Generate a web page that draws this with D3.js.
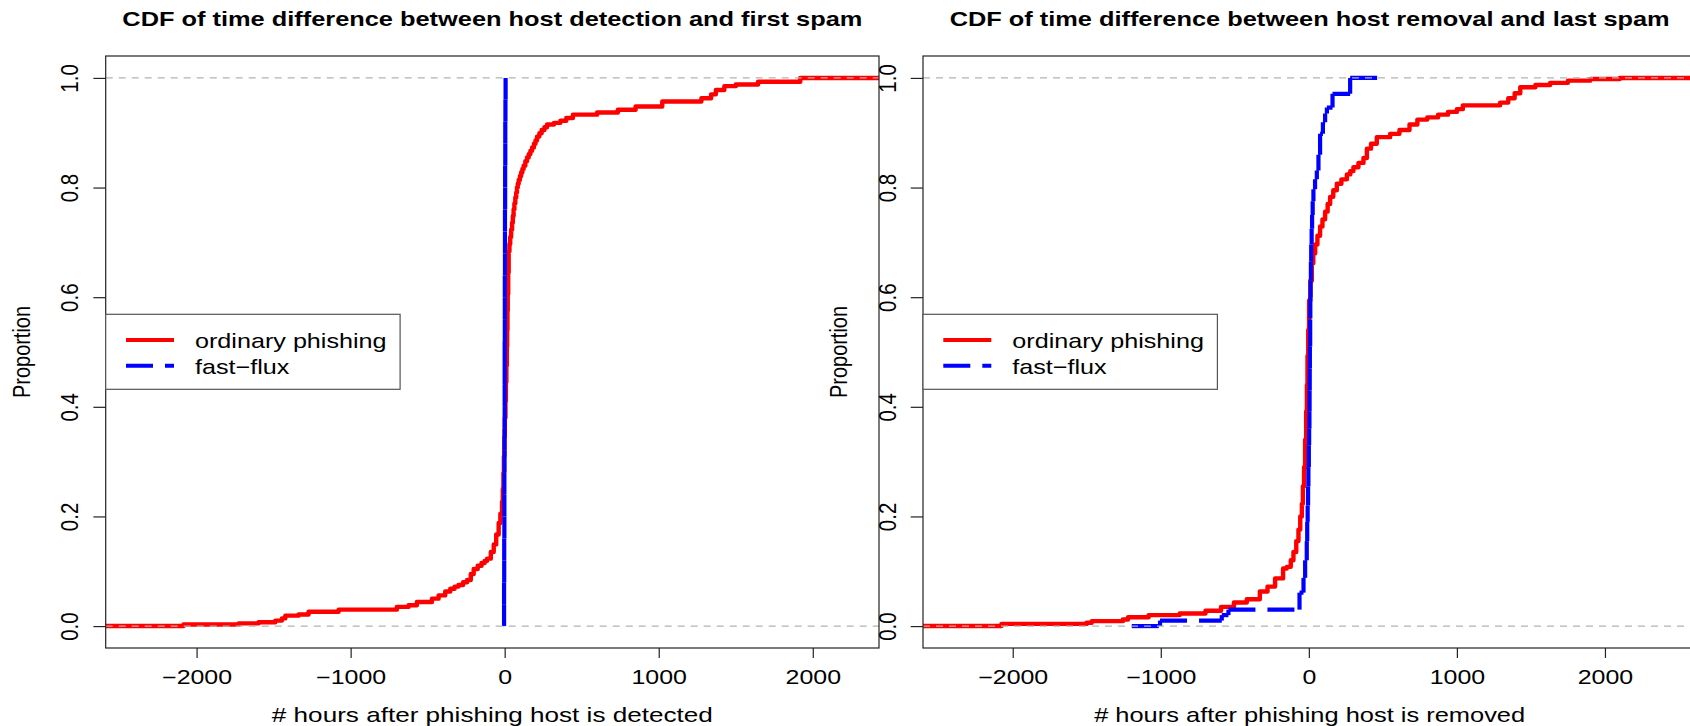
<!DOCTYPE html>
<html>
<head>
<meta charset="utf-8">
<script src="https://cdn.jsdelivr.net/npm/d3@7/dist/d3.min.js"></script>
<style>
  body { margin: 0; background: #fff; }
  svg { display: block; font-family: "Liberation Sans", Arial, Helvetica, sans-serif; }
</style>
</head>
<body>
<svg id="chart" width="1690" height="726"></svg>
<script>
// ---- data: step knots [hours, proportion reached] ----
const detectOrdinary = [
  [-2085, 0.003], [-1727, 0.005], [-1597, 0.007], [-1489, 0.010], [-1446, 0.014],
  [-1424, 0.019], [-1338, 0.021], [-1273, 0.026], [-1078, 0.030], [-700, 0.035],
  [-624, 0.038], [-570, 0.044], [-472, 0.050], [-429, 0.056], [-386, 0.063],
  [-353, 0.068], [-325, 0.072], [-300, 0.075], [-270, 0.080], [-244, 0.084],
  [-220, 0.095], [-201, 0.104], [-175, 0.110], [-150, 0.115], [-130, 0.119],
  [-114, 0.123], [-90, 0.135], [-71, 0.149], [-55, 0.167], [-39, 0.188],
  [-28, 0.205], [-17, 0.227], [-12, 0.250], [-8, 0.280], [-5, 0.310],
  [-2, 0.345], [1, 0.380], [5, 0.410], [8, 0.445], [11, 0.475],
  [14, 0.510], [16, 0.540], [18, 0.575], [20, 0.606], [23, 0.645],
  [26, 0.684], [31, 0.697], [36, 0.710], [42, 0.723], [48, 0.736],
  [53, 0.748], [58, 0.760], [63, 0.771], [69, 0.782], [75, 0.791],
  [80, 0.800], [85, 0.807], [91, 0.814], [99, 0.821], [107, 0.828],
  [115, 0.834], [123, 0.840], [134, 0.848], [145, 0.855], [156, 0.861],
  [167, 0.867], [178, 0.873], [190, 0.880], [200, 0.886], [210, 0.893],
  [225, 0.899], [240, 0.905], [258, 0.910], [275, 0.915], [320, 0.918],
  [362, 0.922], [400, 0.927], [443, 0.933], [600, 0.937], [735, 0.942],
  [850, 0.948], [1023, 0.957], [1277, 0.963], [1340, 0.970], [1371, 0.978],
  [1426, 0.985], [1500, 0.988], [1645, 0.993], [1919, 1.000]
];
// first point is where the line starts, last point is where it stops
const detectFastFlux = [
  [-5, 0], [-4, 0.04], [-4, 0.08], [-3, 0.12], [-3, 0.16], [-2, 0.20], [-2, 0.24],
  [-2, 0.28], [-1, 0.32], [-1, 0.36], [0, 0.40], [0, 0.44], [0, 0.48], [0, 0.52],
  [1, 0.56], [1, 0.60], [1, 0.64], [2, 0.68], [2, 0.72], [2, 0.76], [3, 0.80],
  [3, 0.84], [4, 0.88], [4, 0.92], [5, 0.96], [6, 1.00]
];
const removeOrdinary = [
  [-2076, 0.004], [-1501, 0.006], [-1466, 0.009], [-1256, 0.012], [-1221, 0.016],
  [-1082, 0.020], [-872, 0.023], [-698, 0.028], [-593, 0.035], [-506, 0.043],
  [-419, 0.049], [-331, 0.063], [-279, 0.072], [-228, 0.087], [-174, 0.105],
  [-149, 0.108], [-122, 0.120], [-104, 0.135], [-85, 0.155], [-70, 0.176],
  [-58, 0.200], [-47, 0.223], [-40, 0.255], [-32, 0.290], [-25, 0.340],
  [-18, 0.392], [-13, 0.440], [-9, 0.493], [-4, 0.540], [2, 0.594],
  [10, 0.630], [20, 0.662], [30, 0.680], [43, 0.696], [58, 0.712],
  [76, 0.729], [92, 0.742], [110, 0.756], [127, 0.770], [144, 0.783],
  [165, 0.795], [189, 0.807], [220, 0.815], [257, 0.824], [280, 0.830],
  [301, 0.837], [335, 0.845], [369, 0.854], [392, 0.871], [420, 0.880],
  [459, 0.892], [549, 0.898], [612, 0.905], [680, 0.915], [733, 0.924],
  [800, 0.928], [873, 0.933], [940, 0.938], [1000, 0.943], [1040, 0.950],
  [1292, 0.955], [1347, 0.963], [1390, 0.972], [1428, 0.983], [1530, 0.987],
  [1630, 0.991], [1750, 0.995], [1900, 0.998], [2100, 1.000]
];
const removeFastFlux = [
  [-1196, 0], [-1005, 0.010], [-588, 0.020], [-543, 0.030], [-63, 0.061],
  [-36, 0.088], [-25, 0.120], [-14, 0.155], [-11, 0.190], [-8, 0.220],
  [-5, 0.255], [-3, 0.290], [0, 0.330], [2, 0.360], [4, 0.392],
  [5, 0.430], [6, 0.470], [7, 0.510], [9, 0.561], [10, 0.600],
  [12, 0.630], [14, 0.665], [16, 0.696], [19, 0.725], [22, 0.750],
  [26, 0.775], [31, 0.797], [42, 0.815], [54, 0.831], [65, 0.860],
  [76, 0.898], [95, 0.919], [110, 0.935], [122, 0.946], [160, 0.971],
  [279, 1.000], [464, 1.000]
];

const detectXDomain = [-2590, 2430];
const removeXDomain = [-2606, 2617];
const xTicks = [-2000, -1000, 0, 1000, 2000];
const yTicks = [0, 0.2, 0.4, 0.6, 0.8, 1.0];
const titles = [
  "CDF of time difference between host detection and first spam",
  "CDF of time difference between host removal and last spam"
];
const xLabels = [
  "# hours after phishing host is detected",
  "# hours after phishing host is removed"
];
const yLabel = "Proportion";
const legendLabels = ["ordinary phishing", "fast\u2212flux"];

// ---- layout ----
const plotTop = 56, plotBottom = 648, plotWidth = 773.3;
const panels = [
  { left: 105.7, title: titles[0], titleW: 740, xlabel: xLabels[0], xlabelW: 441,
    ordinary: detectOrdinary, fastflux: detectFastFlux, domain: detectXDomain },
  { left: 923, title: titles[1], titleW: 720, xlabel: xLabels[1], xlabelW: 431,
    ordinary: removeOrdinary, fastflux: removeFastFlux, domain: removeXDomain }
];
const fluxDash = "27,12";

const svg = d3.select("#chart");

// split a step series into separate horizontal / vertical pieces
function stepSegments(pts) {
  let segs = [];
  for (let i = 1; i < pts.length; i++) {
    let p = pts[i - 1], c = pts[i];
    if (c[0] !== p[0]) segs.push([p[0], p[1], c[0], p[1]]);
    if (c[1] !== p[1]) segs.push([c[0], p[1], c[0], c[1]]);
  }
  return segs;
}

panels.forEach((p, i) => {
  let x = d3.scaleLinear().domain(p.domain).range([p.left, p.left + plotWidth]);
  let y = d3.scaleLinear().domain([-0.04, 1.04]).range([plotBottom, plotTop]);
  let g = svg.append("g").attr("class", "panel");
  let cx = p.left + plotWidth / 2;

  g.append("clipPath").attr("id", "clip" + i)
    .append("rect")
    .attr("x", p.left).attr("y", plotTop)
    .attr("width", plotWidth).attr("height", plotBottom - plotTop);

  let plot = g.append("g").attr("clip-path", "url(#clip" + i + ")");

  // ordinary phishing: solid step line running edge to edge
  let redPts = [[p.domain[0], 0]].concat(p.ordinary, [[p.domain[1], 1]]);
  let line = d3.line().curve(d3.curveStepAfter).x(d => x(d[0])).y(d => y(d[1]));
  plot.append("path")
    .attr("d", line(redPts))
    .attr("fill", "none")
    .attr("stroke", "#ff0000")
    .attr("stroke-width", 4.4)
    .attr("stroke-linejoin", "round");

  // fast-flux: dashed step segments, pattern restarts on each segment
  plot.selectAll(".ff")
    .data(stepSegments(p.fastflux))
    .enter().append("line")
    .attr("class", "ff")
    .attr("x1", d => x(d[0])).attr("y1", d => y(d[1]))
    .attr("x2", d => x(d[2])).attr("y2", d => y(d[3]))
    .attr("stroke", "#0000ff")
    .attr("stroke-width", 4.2)
    .attr("stroke-dasharray", fluxDash);

  // grey reference lines at 0 and 1
  plot.selectAll(".ref")
    .data([0, 1])
    .enter().append("line")
    .attr("class", "ref")
    .attr("x1", p.left).attr("x2", p.left + plotWidth)
    .attr("y1", d => y(d)).attr("y2", d => y(d))
    .attr("stroke", "#b3b3b3")
    .attr("stroke-width", 1.2)
    .attr("stroke-dasharray", "7,6");

  // box
  g.append("rect")
    .attr("x", p.left).attr("y", plotTop)
    .attr("width", plotWidth).attr("height", plotBottom - plotTop)
    .attr("fill", "none").attr("stroke", "#222").attr("stroke-width", 1.2);

  // x axis
  let xAxis = d3.axisBottom(x).tickValues(xTicks).tickSize(10).tickPadding(0).tickFormat(d3.format("d"));
  let xg = g.append("g")
    .attr("class", "x-axis")
    .attr("transform", "translate(0," + plotBottom + ")")
    .call(xAxis);
  xg.select(".domain").remove();
  xg.selectAll(".tick line").attr("stroke", "#222").attr("stroke-width", 1.2);
  xg.selectAll(".tick text")
    .attr("y", 36).attr("dy", 0)
    .attr("fill", "#000")
    .style("font-size", "19.5px")
    .attr("transform", "scale(1.28,1)");

  // y axis
  let yAxis = d3.axisLeft(y).tickValues(yTicks).tickSize(12.3).tickFormat(d3.format(".1f"));
  let yg = g.append("g")
    .attr("class", "y-axis")
    .attr("transform", "translate(" + p.left + ",0)")
    .call(yAxis);
  yg.select(".domain").remove();
  yg.selectAll(".tick line").attr("stroke", "#222").attr("stroke-width", 1.2);
  yg.selectAll(".tick text")
    .attr("x", null).attr("dy", null)
    .attr("text-anchor", "middle")
    .attr("fill", "#000")
    .style("font-size", "20.5px")
    .attr("transform", "translate(-27.4,0) scale(1.2,1) rotate(-90)");

  // title
  g.append("text")
    .attr("x", cx).attr("y", 26)
    .attr("text-anchor", "middle")
    .attr("textLength", p.titleW).attr("lengthAdjust", "spacingAndGlyphs")
    .style("font-size", "21px").style("font-weight", "bold")
    .text(p.title);

  // x label
  g.append("text")
    .attr("x", cx).attr("y", 721.5)
    .attr("text-anchor", "middle")
    .attr("textLength", p.xlabelW).attr("lengthAdjust", "spacingAndGlyphs")
    .style("font-size", "20.8px")
    .text(p.xlabel);

  // y label
  g.append("text")
    .attr("transform", "translate(" + (p.left - 75.7) + "," + ((plotTop + plotBottom) / 2) + ") scale(1.2,1) rotate(-90)")
    .attr("text-anchor", "middle")
    .attr("textLength", 92).attr("lengthAdjust", "spacingAndGlyphs")
    .style("font-size", "20.5px")
    .text(yLabel);

  // legend
  let lg = g.append("g").attr("class", "legend").attr("transform", "translate(" + p.left + ",0)");
  lg.append("rect")
    .attr("x", 0).attr("y", 314.3).attr("width", 294.4).attr("height", 75)
    .attr("fill", "#fff").attr("stroke", "#555").attr("stroke-width", 1.2);
  let entries = lg.selectAll(".entry")
    .data(legendLabels)
    .enter().append("g")
    .attr("class", "entry")
    .attr("transform", (d, k) => "translate(0," + (340 + k * 25.7) + ")");
  entries.append("line")
    .attr("x1", 20.3).attr("x2", 68.3)
    .attr("stroke", (d, k) => k === 0 ? "#ff0000" : "#0000ff")
    .attr("stroke-width", 4)
    .attr("stroke-dasharray", (d, k) => k === 0 ? null : fluxDash);
  entries.append("text")
    .attr("transform", "translate(89.3,8.3) scale(1.21,1)")
    .style("font-size", "20.8px")
    .text(d => d);
});
</script>
</body>
</html>
